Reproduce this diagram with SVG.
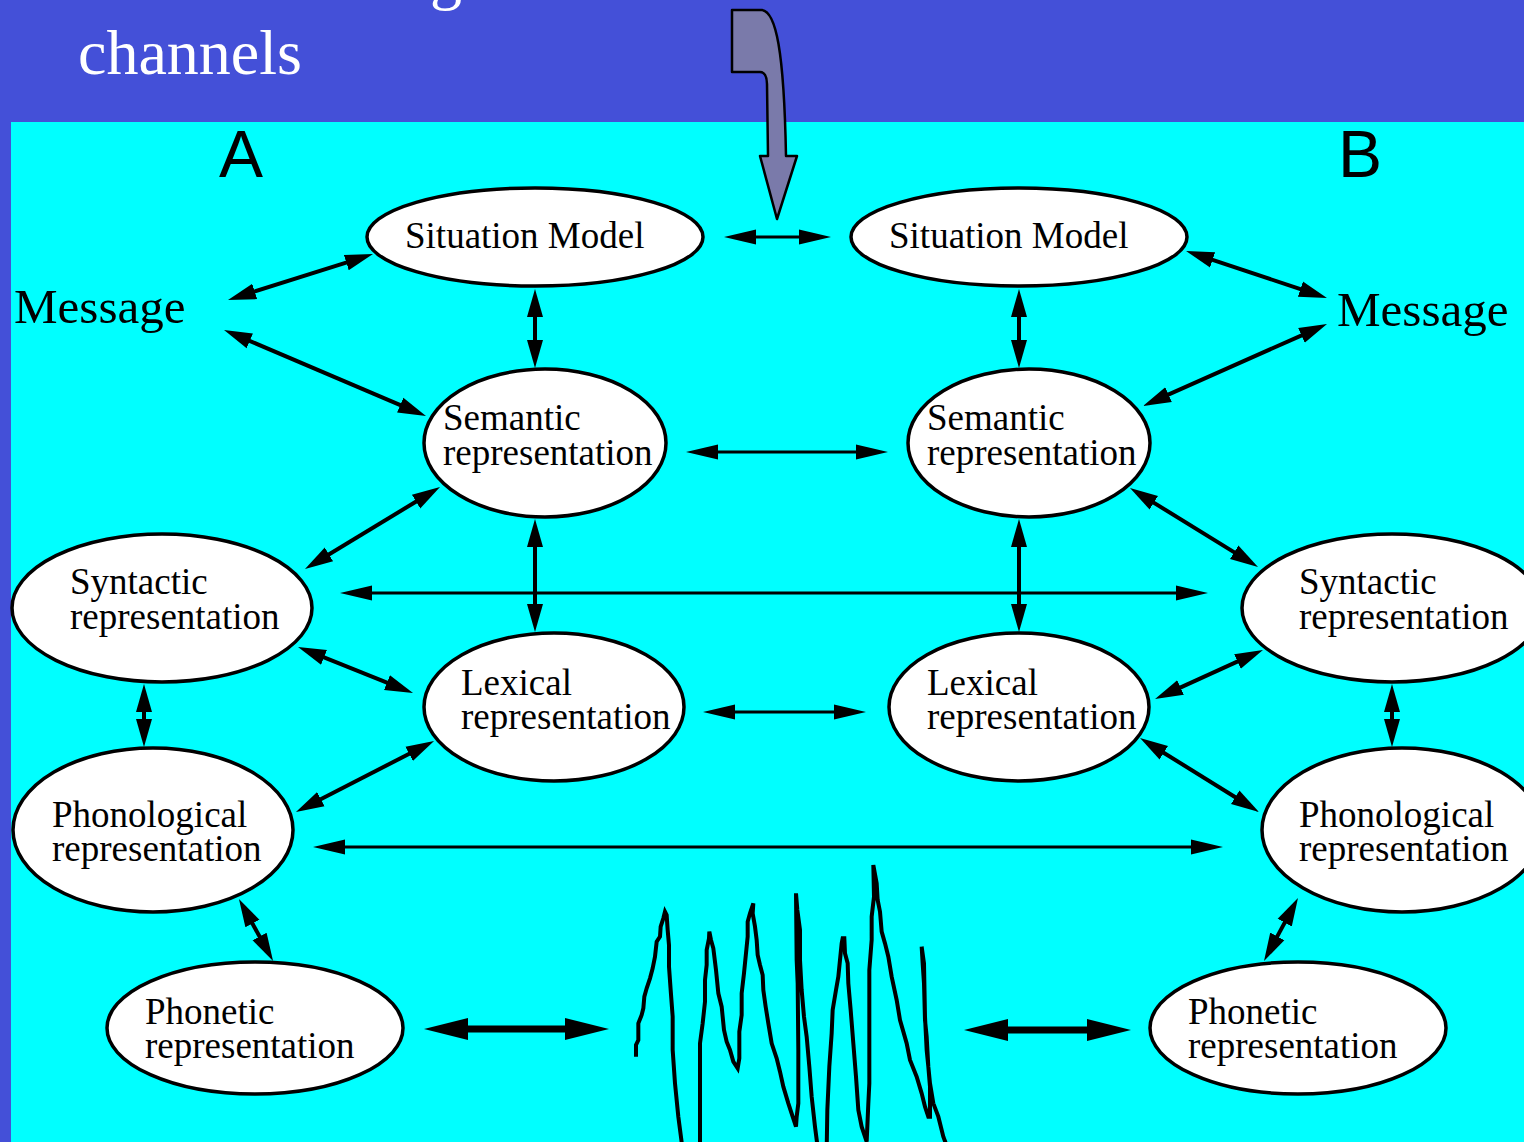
<svg xmlns="http://www.w3.org/2000/svg" width="1524" height="1142" viewBox="0 0 1524 1142">
  <style>
    .node ellipse { fill: #ffffff; stroke: #000000; stroke-width: 3.5; }
    .lbl { font-family: "Liberation Serif", "Times New Roman", serif; font-size: 37px; fill: #000000; }
    .msg { font-family: "Liberation Serif", "Times New Roman", serif; font-size: 49px; fill: #000000; }
    .side { font-family: "Liberation Sans", Arial, sans-serif; font-size: 66px; fill: #000000; }
    .title { font-family: "Liberation Serif", "Times New Roman", serif; font-size: 64px; fill: #ffffff; }
    .c { stroke: #000000; fill: none; stroke-width: 4; marker-start: url(#ah); marker-end: url(#ah); }
    .ct { stroke: #000000; fill: none; stroke-width: 3; marker-start: url(#aht); marker-end: url(#aht); }
    .ck { stroke: #000000; fill: none; stroke-width: 7; marker-start: url(#ahk); marker-end: url(#ahk); }
    .wave { fill: none; stroke: #000000; stroke-width: 12; stroke-linejoin: miter; }
  </style>
  <defs>
    <marker id="ah" markerUnits="userSpaceOnUse" markerWidth="30" markerHeight="20" viewBox="0 -10 30 20" refX="4" refY="0" orient="auto-start-reverse">
      <path d="M0,-8 L28,0 L0,8 z" fill="#000000"/>
    </marker>
    <marker id="aht" markerUnits="userSpaceOnUse" markerWidth="34" markerHeight="20" viewBox="0 -10 34 20" refX="4" refY="0" orient="auto-start-reverse">
      <path d="M0,-7.5 L32,0 L0,7.5 z" fill="#000000"/>
    </marker>
    <marker id="ahk" markerUnits="userSpaceOnUse" markerWidth="46" markerHeight="26" viewBox="0 -13 46 26" refX="4" refY="0" orient="auto-start-reverse">
      <path d="M0,-11 L44,0 L0,11 z" fill="#000000"/>
    </marker>
  </defs>

  <!-- backdrop: title band and working area -->
  <rect x="0" y="0" width="1524" height="1142" fill="#4450D8"/>
  <rect x="11" y="122" width="1513" height="1020" fill="#00FFFF"/>

  <!-- title -->
  <text class="title" x="430" y="-3">g</text>
  <text class="title" x="78" y="74">channels</text>

  <!-- input arrow -->
  <path d="M732,10 L762,10 C776,12 784,50 786,156 L797,156 L777,219 L760,156 L768,156 L767,84 C767,76 764,72 760,72 L732,72 Z" fill="#7A7AAA" stroke="#000000" stroke-width="2.5" stroke-linejoin="round"/>

  <!-- side markers -->
  <text class="side" x="219" y="177">A</text>
  <text class="side" x="1338" y="177">B</text>

  <text class="msg" x="14" y="323">Message</text>
  <text class="msg" x="1337" y="326">Message</text>

  <!-- connectors -->
  <g id="connectors">
    <line class="ct" x1="752" y1="237" x2="803" y2="237"/>
    <line class="c" x1="250.9" y1="292.7" x2="350.1" y2="261.3"/>
    <line class="c" x1="246.1" y1="339.4" x2="403.9" y2="406.6"/>
    <line class="c" x1="535" y1="313" x2="535" y2="344"/>
    <line class="c" x1="1019" y1="313" x2="1019" y2="344"/>
    <line class="c" x1="1208.8" y1="258.6" x2="1304.2" y2="290.4"/>
    <line class="c" x1="1305.1" y1="333.8" x2="1164.9" y2="396.2"/>
    <line class="ct" x1="714" y1="452" x2="860" y2="452"/>
    <line class="c" x1="419.5" y1="499.5" x2="325.5" y2="556.5"/>
    <line class="c" x1="535" y1="543" x2="535" y2="608"/>
    <line class="c" x1="1019" y1="543" x2="1019" y2="608"/>
    <line class="c" x1="1150.4" y1="500.6" x2="1237.6" y2="554.4"/>
    <line class="ct" x1="368" y1="593" x2="1180" y2="593"/>
    <line class="c" x1="320.3" y1="655.9" x2="390.7" y2="684.1"/>
    <line class="c" x1="144" y1="708" x2="144" y2="723"/>
    <line class="ct" x1="731" y1="712" x2="838" y2="712"/>
    <line class="c" x1="412.7" y1="752" x2="317.3" y2="801"/>
    <line class="c" x1="1176.9" y1="689.1" x2="1241.1" y2="659.9"/>
    <line class="c" x1="1160.4" y1="750.7" x2="1238.6" y2="799.3"/>
    <line class="c" x1="1392" y1="708" x2="1392" y2="723"/>
    <line class="ct" x1="341" y1="847" x2="1195" y2="847"/>
    <line class="c" x1="250.5" y1="920" x2="261.5" y2="940"/>
    <line class="c" x1="1286.6" y1="919.1" x2="1275.4" y2="939.9"/>
    <line class="ck" x1="464" y1="1029" x2="569" y2="1029"/>
    <line class="ck" x1="1004" y1="1030" x2="1091" y2="1030"/>
  </g>

  <!-- speech waveform -->
  <g id="waveform" transform="translate(600,850) scale(0.33333)">
    <polyline class="wave" points="108,620 108,585 115,570 115,520 125,495 130,475 133,440 140,415 150,385 158,355 165,320 170,275 180,260 182,230 190,205 195,185 200,195 203,240 207,285 207,350 212,420 218,500 218,600 225,700 235,800 248,900"/>
    <polyline class="wave" points="300,900 300,580 308,520 315,455 315,390 320,345 320,300 327,265 328,245 333,270 340,295 348,360 355,430 365,470 372,540 380,575 390,600 400,635 413,655 418,625 418,545 425,495 425,430 432,370 440,290 443,260 443,215 450,190 460,160 458,190 465,230 470,270 473,315 480,345 488,375 490,420 497,470 505,520 515,580 530,625 540,665 550,710 565,760 578,800 588,830 590,800 595,760 595,600 593,400 590,330 588,130 592,180 600,240 600,330 605,420 612,500 620,560 628,650 635,740 645,830 654,900"/>
    <polyline class="wave" points="680,900 682,780 688,650 695,550 698,480 708,420 715,380 720,330 725,280 728,265 733,265 735,310 743,340 745,400 752,480 760,580 768,680 775,780 785,830 800,875 805,760 808,700 808,360 815,270 815,200 822,140 820,45 830,100 833,150 840,185 845,245 855,280 865,320 875,380 890,450 900,510 910,545 920,580 930,630 950,680 965,730 975,770 985,800 990,800 990,710 985,650 980,560 975,510 972,400 968,340 965,290 972,340 975,500 980,600 990,700 1000,760 1015,800 1030,860 1045,900"/>
  </g>

  <!-- side A -->
  <g id="sitA" class="node">
    <ellipse cx="535" cy="237" rx="168" ry="49"/>
    <text class="lbl" x="405" y="248">Situation Model</text>
  </g>
  <g id="semA" class="node">
    <ellipse cx="545" cy="443" rx="121" ry="74"/>
    <text class="lbl" x="443" y="430">Semantic</text>
    <text class="lbl" x="443" y="465">representation</text>
  </g>
  <g id="synA" class="node">
    <ellipse cx="162" cy="608" rx="150" ry="74"/>
    <text class="lbl" x="70" y="594">Syntactic</text>
    <text class="lbl" x="70" y="629">representation</text>
  </g>
  <g id="lexA" class="node">
    <ellipse cx="554" cy="707" rx="130" ry="74"/>
    <text class="lbl" x="461" y="695">Lexical</text>
    <text class="lbl" x="461" y="729">representation</text>
  </g>
  <g id="phonA" class="node">
    <ellipse cx="153" cy="830" rx="140" ry="82"/>
    <text class="lbl" x="52" y="827">Phonological</text>
    <text class="lbl" x="52" y="861">representation</text>
  </g>
  <g id="phonetA" class="node">
    <ellipse cx="255" cy="1028" rx="148" ry="66"/>
    <text class="lbl" x="145" y="1024">Phonetic</text>
    <text class="lbl" x="145" y="1058">representation</text>
  </g>

  <!-- side B -->
  <g id="sitB" class="node">
    <ellipse cx="1019" cy="237" rx="168" ry="49"/>
    <text class="lbl" x="889" y="248">Situation Model</text>
  </g>
  <g id="semB" class="node">
    <ellipse cx="1029" cy="443" rx="121" ry="74"/>
    <text class="lbl" x="927" y="430">Semantic</text>
    <text class="lbl" x="927" y="465">representation</text>
  </g>
  <g id="synB" class="node">
    <ellipse cx="1392" cy="608" rx="150" ry="74"/>
    <text class="lbl" x="1299" y="594">Syntactic</text>
    <text class="lbl" x="1299" y="629">representation</text>
  </g>
  <g id="lexB" class="node">
    <ellipse cx="1019" cy="707" rx="130" ry="74"/>
    <text class="lbl" x="927" y="695">Lexical</text>
    <text class="lbl" x="927" y="729">representation</text>
  </g>
  <g id="phonB" class="node">
    <ellipse cx="1402" cy="830" rx="140" ry="82"/>
    <text class="lbl" x="1299" y="827">Phonological</text>
    <text class="lbl" x="1299" y="861">representation</text>
  </g>
  <g id="phonetB" class="node">
    <ellipse cx="1298" cy="1028" rx="148" ry="66"/>
    <text class="lbl" x="1188" y="1024">Phonetic</text>
    <text class="lbl" x="1188" y="1058">representation</text>
  </g>
</svg>
